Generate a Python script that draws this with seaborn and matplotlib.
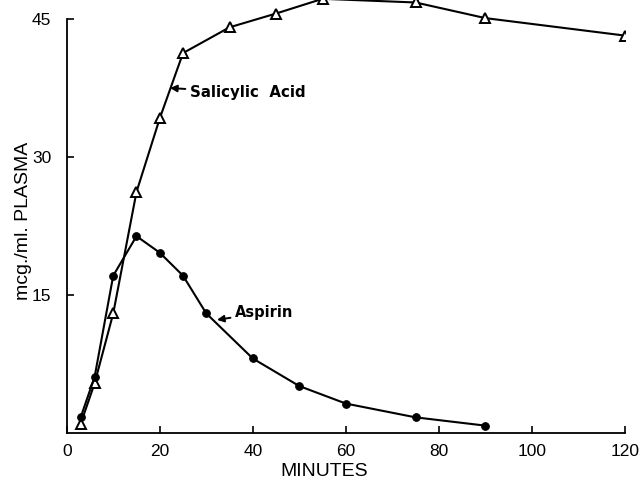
import matplotlib
matplotlib.use("Agg")
import matplotlib.pyplot as plt
import seaborn as sns
import pandas as pd

# Data
aspirin_minutes = [3, 6, 10, 15, 20, 25, 30, 40, 50, 60, 75, 90]
aspirin_conc = [1.7, 6.1, 17.1, 21.4, 19.6, 17.1, 13.0, 8.1, 5.1, 3.2, 1.7, 0.8]
salicylic_minutes = [3, 6, 10, 15, 20, 25, 35, 45, 55, 75, 90, 120]
salicylic_conc = [1.0, 5.4, 13.0, 26.2, 34.2, 41.3, 44.1, 45.6, 47.2, 46.8, 45.1, 43.2]
x_ticks = [0, 20, 40, 60, 80, 100, 120]
y_ticks = [15, 30, 45]

sns.set_style("ticks")
plt.rcParams['font.family'] = ['Liberation Sans Narrow', 'Liberation Sans', 'DejaVu Sans']
plt.rcParams.update({'text.color': 'black', 'axes.labelcolor': 'black',
                     'xtick.color': 'black', 'ytick.color': 'black'})

df_a = pd.DataFrame({"minutes": aspirin_minutes, "conc": aspirin_conc})
df_s = pd.DataFrame({"minutes": salicylic_minutes, "conc": salicylic_conc})

fig = plt.figure(figsize=(6.39, 4.78), dpi=100)
ax = fig.add_axes([66.7 / 639, 45 / 478, (625 - 66.7) / 639, 433 / 478])

sns.lineplot(data=df_s, x="minutes", y="conc", ax=ax, color="black", lw=1.5,
             marker="^", markersize=7.5, markerfacecolor="white",
             markeredgecolor="black", markeredgewidth=1.4, zorder=3)
sns.lineplot(data=df_a, x="minutes", y="conc", ax=ax, color="black", lw=1.5,
             marker="o", markersize=5.5, markerfacecolor="black",
             markeredgecolor="black", zorder=4)

ax.set_xlim(0, 120)
ax.set_ylim(0, 47.07)
ax.set_xticks(x_ticks)
ax.set_yticks(y_ticks)
ax.spines['top'].set_visible(False)
ax.spines['right'].set_visible(False)
ax.spines['left'].set_bounds(0, 45)
ax.spines['bottom'].set_bounds(0, 120)
for s in ('left', 'bottom'):
    ax.spines[s].set_linewidth(1.3)
    ax.spines[s].set_color('black')
ax.tick_params(axis='both', direction='in', length=5, width=1.2, colors='black',
               labelcolor='black', labelsize=12.5)
ax.tick_params(axis='x', pad=8)
ax.tick_params(axis='y', pad=11)

ax.set_xlabel("MINUTES", fontsize=14, family=['Liberation Sans', 'DejaVu Sans'])
ax.xaxis.set_label_coords((324 - 66.7) / (625 - 66.7), -(471 - 433) / 433)
ax.xaxis.label.set_va('center')
ax.set_ylabel("mcg./ml. PLASMA", fontsize=14, family=['Liberation Sans', 'DejaVu Sans'])
ax.yaxis.set_label_coords(-(66.7 - 23) / (625 - 66.7), (433 - 221) / 433)
ax.yaxis.label.set_va('center')

ax.annotate("Salicylic  Acid", xy=(22.2, 37.5), xytext=(26.5, 37.0),
            fontsize=10.8, fontweight='heavy', va='center', ha='left',
            family=['DejaVu Sans'],
            arrowprops=dict(arrowstyle='-|>', color='black', lw=1.4,
                            mutation_scale=10, shrinkA=1, shrinkB=0))
ax.annotate("Aspirin", xy=(32.3, 12.3), xytext=(36.2, 13.1),
            fontsize=10.5, fontweight='heavy', va='center', ha='left',
            family=['DejaVu Sans'],
            arrowprops=dict(arrowstyle='-|>', color='black', lw=1.4,
                            mutation_scale=10, shrinkA=1, shrinkB=0))

fig.savefig("out.png", dpi=100)
